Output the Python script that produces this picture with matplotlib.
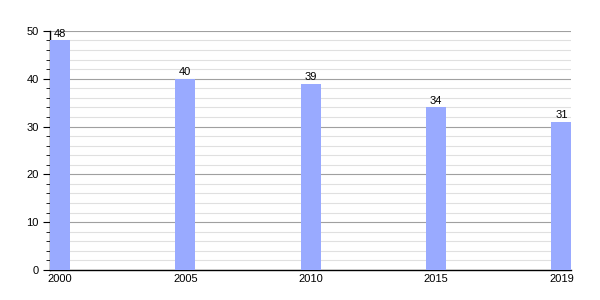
import matplotlib.pyplot as plt
from matplotlib.ticker import MultipleLocator

plt.rcParams['font.family'] = ['Liberation Sans', 'DejaVu Sans']

years = ["2000", "2005", "2010", "2015", "2019"]
values = [48, 40, 39, 34, 31]

fig = plt.figure(figsize=(6, 3), dpi=100)
ax = fig.add_axes([0.0833, 0.1, 0.869, 0.797])

x = list(range(len(years)))
ax.bar(x, values, width=0.16, align='edge', color='#99aaff', zorder=3)
for xi, v in zip(x, values):
    ax.text(xi + 0.08, v + 0.3, str(v), ha='center', va='bottom', fontsize=8, zorder=4)

ax.set_xlim(0, len(years) - 1 + 0.16)
ax.set_ylim(0, 50)
ax.set_xticks([xi + 0.08 for xi in x])
ax.set_xticklabels(years)
ax.yaxis.set_major_locator(MultipleLocator(10))
ax.yaxis.set_minor_locator(MultipleLocator(2))
ax.grid(axis='y', which='major', color='#a0a0a0', linewidth=0.8, zorder=0)
ax.grid(axis='y', which='minor', color='#e0e0e0', linewidth=0.8, zorder=0)

for s in ['top', 'right']:
    ax.spines[s].set_visible(False)
ax.spines['left'].set_linewidth(1.0)
ax.spines['bottom'].set_linewidth(1.0)
ax.tick_params(axis='x', length=0, labelsize=8, pad=3)
ax.tick_params(axis='y', which='major', length=5, labelsize=8, pad=3)
ax.tick_params(axis='y', which='minor', length=3)

plt.savefig('out.png', dpi=100)
